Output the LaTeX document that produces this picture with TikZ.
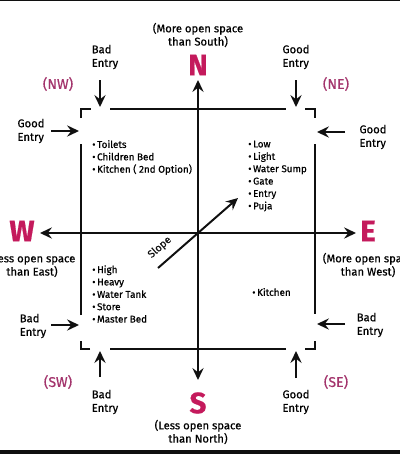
\documentclass[tikz,border=0pt]{standalone}
\usepackage{fontspec}
\setmainfont{Fira Sans}[FakeBold=0.6]
\usepackage{tikz}
\usetikzlibrary{arrows.meta, positioning}
\definecolor{vdir}{HTML}{C41A5C}
\definecolor{vcorner}{HTML}{A3346C}
\definecolor{vline}{HTML}{101010}
\tikzset{
  dirletter/.style={text=vdir, font=\fontsize{21}{21}\selectfont\bfseries, inner sep=0pt},
  dirnote/.style={align=center, font=\fontsize{8}{9.4}\selectfont, inner sep=0pt},
  cornerlbl/.style={text=vcorner, font=\fontsize{10}{12}\selectfont, inner sep=0pt},
  entrylbl/.style={align=left, font=\fontsize{8}{9.6}\selectfont, inner sep=0pt},
  items/.style={align=left, font=\fontsize{7}{8.8}\selectfont, inner sep=0pt, anchor=west},
  wall/.style={line width=1.4pt, vline},
  axis/.style={line width=1.4pt, vline, {Stealth[length=8.5pt,width=8pt,inset=3pt]}-{Stealth[length=8.5pt,width=8pt,inset=3pt]}},
  earr/.style={line width=1.4pt, vline, -{Stealth[length=8.5pt,width=8pt,inset=3pt]}},
}
\begin{document}
\begin{tikzpicture}[x=0.025cm, y=-0.025cm]
  \useasboundingbox (0,0) rectangle (400,454);
  \clip (0,0) rectangle (400,454);
  \fill[vline] (0,450) rectangle (400,454);
  \fill[vline] (0,0) rectangle (400,1);
  \node[dirletter] (nlet) at (198,65) {N};
  \node[dirletter] (slet) at (198,403) {S};
  \node[dirletter] (wlet) at (22,231) {W};
  \node[dirletter] (elet) at (368,231) {E};
  \node[dirnote] (nnote) at (198,35) {(More open space\\than South)};
  \node[dirnote] (snote) at (198,432) {(Less open space\\than North)};
  \node[dirnote] (wnote) at (32,265) {(Less open space\\than East)};
  \node[dirnote] (enote) at (368,265) {(More open space\\than West)};
  \draw[axis] (slet.north) ++(0,-12) coordinate (sb) -- (nlet.south |- 0,80) coordinate (nb);
  \draw[axis] (40,233) coordinate (wb) -- (356,233) coordinate (eb);
  \draw[wall] (81,118) -- (81,109) -- (91,109);
  \draw[wall] (110,109) -- (286,109);
  \draw[wall] (305,109) -- (315,109) -- (315,118);
  \draw[wall] (315,144) -- (315,314);
  \draw[wall] (315,341) -- (315,349) -- (305,349);
  \draw[wall] (286,349) -- (110,349);
  \draw[wall] (90,349) -- (81,349) -- (81,341);
  \draw[wall] (81,315) -- (81,144);
  \node[cornerlbl] (nw) at (58,84) {(NW)};
  \node[cornerlbl] (ne) at (336,84) {(NE)};
  \node[cornerlbl] (sw) at (58,382) {(SW)};
  \node[cornerlbl] (se) at (336,382) {(SE)};
  \node[entrylbl] (nwtop) at (105,57) {Bad\\Entry};
  \node[entrylbl] (nwside) at (31,131) {Good\\Entry};
  \node[entrylbl] (netop) at (296,57) {Good\\Entry};
  \node[entrylbl] (neside) at (373,137) {Good\\Entry};
  \node[entrylbl] (swside) at (33,326) {Bad\\Entry};
  \node[entrylbl] (swbot) at (105,402) {Bad\\Entry};
  \node[entrylbl] (seside) at (370,325) {Bad\\Entry};
  \node[entrylbl] (sebot) at (296,402) {Good\\Entry};
  \coordinate (nwtopA) at (100,80);  \coordinate (nwtopB) at (100,107);
  \coordinate (nwsideA) at (51,131); \coordinate (nwsideB) at (79,131);
  \coordinate (netopA) at (296,80);  \coordinate (netopB) at (296,107);
  \coordinate (nesideA) at (345,132); \coordinate (nesideB) at (317,132);
  \coordinate (swsideA) at (51,325); \coordinate (swsideB) at (79,325);
  \coordinate (swbotA) at (100,377); \coordinate (swbotB) at (100,351);
  \coordinate (sesideA) at (345,324); \coordinate (sesideB) at (317,324);
  \coordinate (sebotA) at (296,378); \coordinate (sebotB) at (296,351);
  \draw[earr] (nwtopA) -- (nwtopB);
  \draw[earr] (nwsideA) -- (nwsideB);
  \draw[earr] (netopA) -- (netopB);
  \draw[earr] (nesideA) -- (nesideB);
  \draw[earr] (swsideA) -- (swsideB);
  \draw[earr] (swbotA) -- (swbotB);
  \draw[earr] (sesideA) -- (sesideB);
  \draw[earr] (sebotA) -- (sebotB);
  \node[items] (nwlist) at (92,157.5) {\textbullet\,Toilets\\\textbullet\,Children Bed\\\textbullet\,Kitchen ( 2nd Option)};
  \node[items] (nelist) at (248,176) {\textbullet\,Low\\\textbullet\,Light\\\textbullet\,Water Sump\\\textbullet\,Gate\\\textbullet\,Entry\\\textbullet\,Puja};
  \node[items] (swlist) at (92,294) {\textbullet\,High\\\textbullet\,Heavy\\\textbullet\,Water Tank\\\textbullet\,Store\\\textbullet\,Master Bed};
  \node[items] (selist) at (252,292) {\textbullet\,Kitchen};
  \coordinate (slopeA) at (158,268);
  \coordinate (slopeB) at (238,198);
  \draw[earr] (slopeA) -- node[pos=0.14, sloped, above=2.5pt, font=\fontsize{7.5}{9}\selectfont] (slopelbl) {Slope} (slopeB);
\end{tikzpicture}
\end{document}
